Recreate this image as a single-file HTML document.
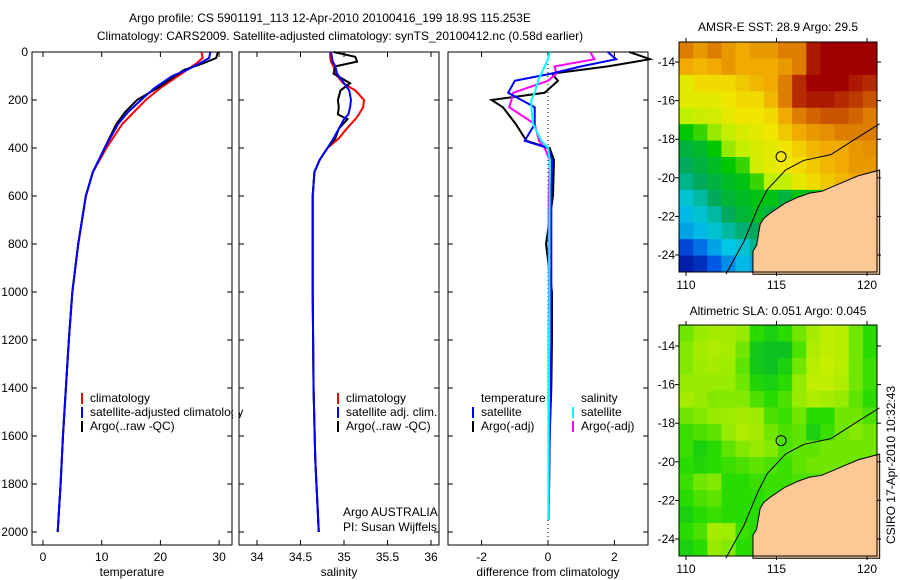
<!DOCTYPE html>
<html><head><meta charset="utf-8"><style>
body{margin:0;background:#fff}
svg{display:block;font-family:"Liberation Sans",sans-serif}
text{font-size:12px;fill:#000}
</style></head><body>
<svg id="c" width="900" height="580" viewBox="0 0 900 580">
<text x="330" y="22" text-anchor="middle">Argo profile: CS 5901191_113 12-Apr-2010 20100416_199 18.9S 115.253E</text>
<text x="340" y="40" text-anchor="middle">Climatology: CARS2009. Satellite-adjusted climatology: synTS_20100412.nc (0.58d earlier)</text>
</svg>
<script>
// ---- data ----
const tDepth=[0,25,50,75,100,150,200,250,300,400,500,600,800,1000,1200,1400,1600,1800,2000];
const tClim=[27,27.2,26,24.5,23,20,17.5,15.5,13.5,10.8,8.5,7.3,6,5,4.4,3.9,3.4,3,2.5];
const tSat=[28.5,28.3,26.5,24.5,22,19,16.7,14.5,12.8,10.5,8.5,7.3,6,5,4.4,3.9,3.4,3,2.5];
const tArgo=[29.8,29.5,27,24,22.5,19.5,16,14,12.5,10.5,8.5,7.3,6,5,4.4,3.9,3.4,3,2.5];
const sDepth=[0,20,40,60,90,130,160,200,230,260,280,320,360,400,450,500,600,1000,1400,1700,2000];
const sClim=[34.84,34.84,34.85,34.88,34.90,34.99,35.13,35.23,35.22,35.17,35.13,35.03,34.94,34.81,34.72,34.66,34.64,34.64,34.65,34.67,34.71];
const sSat=[34.85,34.86,34.87,34.90,34.92,35.0,35.06,35.08,35.07,35.05,35.0,34.94,34.88,34.81,34.72,34.66,34.64,34.64,34.65,34.67,34.71];
const sArgo=[34.88,35.13,35.15,34.90,34.88,35.07,34.96,34.93,34.94,34.93,35.04,34.94,34.90,34.81,34.72,34.66,34.64,34.64,34.65,34.67,34.71];
const dDepth=[0,30,60,90,120,170,200,230,300,370,400,450,600,800,1000,1200,1400,1600,1950];
const dTempClim=[2.45,3.07,1.8,0.12,0.3,-0.1,-1.7,-1.36,-0.97,-0.65,0.05,0.18,0.15,-0.06,0.12,0.12,0.1,0.05,0.02];
const dTempSat=[1.8,2.05,1.0,0.1,-1.0,-1.2,-0.8,-0.4,-0.4,-0.7,0,0.12,0.1,0.1,0.1,0.1,0.08,0.05,0.02];
const dSalClim=[1.27,1.4,0.2,0.25,0,-1.05,-1.1,-1.17,-0.4,-0.27,-0.1,0.05,0.02,0.02,0.03,0.02,0.02,0.02,0.02];
const dSalSat=[0.05,0,-0.1,-0.2,-0.3,-0.4,-0.5,-0.5,-0.45,-0.2,0,0.05,0.05,0.04,0.04,0.03,0.03,0.02,0.02];
const depthTicks=[0,200,400,600,800,1000,1200,1400,1600,1800,2000];
const tTicks=[0,10,20,30];
const sTicks=[34,34.5,35,35.5,36];
const dTicks=[-2,0,2];
const sstGrid=[
[.85,.82,.85,.82,.8,.82,.82,.85,.85,.97,1,1,1,1],
[.8,.78,.8,.82,.8,.8,.8,.82,.85,.97,1,1,1,1],
[.68,.72,.72,.72,.75,.78,.8,.85,.95,1,1,1,.97,.95],
[.68,.68,.68,.7,.72,.72,.78,.85,.95,.97,.97,.95,.93,.9],
[.62,.64,.65,.68,.7,.7,.72,.8,.85,.88,.9,.9,.88,.85],
[.52,.55,.6,.63,.66,.68,.7,.75,.8,.82,.83,.85,.85,.85],
[.45,.47,.52,.6,.63,.66,.68,.7,.74,.78,.8,.8,.82,.83],
[.42,.45,.48,.52,.55,.65,.68,.7,.72,.75,.78,.8,.82,.82],
[.38,.42,.45,.48,.5,.55,.62,.62,.68,.72,.75,.78,.8,.8],
[.32,.36,.42,.46,.48,.5,.5,.45,.5,.5,.5,.5,.5,.5],
[.28,.32,.36,.42,.46,.48,.45,.42,.45,.45,.45,.45,.45,.45],
[.25,.28,.32,.36,.4,.42,.38,.35,.4,.4,.4,.4,.4,.4],
[.12,.18,.25,.3,.32,.38,.3,.2,.3,.3,.3,.3,.3,.3],
[.05,.08,.15,.22,.28,.25,.18,.15,.2,.2,.2,.2,.2,.2]];
const slaGrid=[
[.5,.6,.7,.7,.6,.3,.2,.3,.5,.7,.85,.8,.5,.3],
[.55,.7,.75,.7,.5,.15,.1,.1,.4,.75,.85,.8,.5,.3],
[.55,.65,.7,.65,.45,.15,.1,.2,.5,.8,.9,.8,.5,.35],
[.6,.6,.6,.6,.5,.25,.2,.3,.6,.85,.85,.75,.5,.35],
[.7,.6,.55,.55,.55,.4,.3,.4,.6,.75,.7,.6,.45,.3],
[.5,.55,.6,.65,.7,.65,.4,.35,.5,.3,.3,.5,.5,.4],
[.35,.4,.45,.6,.75,.7,.5,.4,.45,.2,.35,.5,.55,.5],
[.35,.2,.3,.45,.55,.6,.55,.4,.45,.45,.5,.5,.5,.5],
[.3,.25,.3,.35,.4,.45,.4,.35,.45,.5,.5,.5,.5,.5],
[.35,.5,.55,.3,.3,.35,.35,.35,.4,.4,.4,.4,.4,.4],
[.3,.4,.45,.3,.3,.3,.35,.35,.4,.4,.4,.4,.4,.4],
[.2,.3,.35,.3,.3,.3,.35,.35,.4,.4,.4,.4,.4,.4],
[.3,.4,.7,.65,.35,.3,.3,.35,.4,.4,.4,.4,.4,.4],
[.2,.3,.6,.55,.3,.3,.3,.35,.4,.4,.4,.4,.4,.4]];
const landLon=[113.7,113.7,113.9,114.1,114.3,114.7,115.5,116.2,116.8,117.5,118.5,119.5,120.7,120.7];
const landLat=[-25,-23.8,-23.5,-22.4,-22.1,-21.8,-21.3,-21,-20.8,-20.7,-20.3,-19.9,-19.6,-25];
const shelfLon=[112.2,113.2,114,114.5,115.5,116.5,118,119.5,120.7];
const shelfLat=[-25,-23.3,-21.5,-20.6,-19.6,-19.1,-18.8,-17.9,-17.2];
const latTicks=[-14,-16,-18,-20,-22,-24];
const lonTicks=[110,115,120];
const argoLon=115.253, argoLat=-18.9;

const svg=document.getElementById('c');
const NS='http://www.w3.org/2000/svg';
function mk(tag,attrs,parent){const e=document.createElementNS(NS,tag);for(const k in attrs)e.setAttribute(k,attrs[k]);(parent||svg).appendChild(e);return e;}
const PT=52, PB=545;
const yD=d=>52+d*0.24;
function panel(x0,x1,xs,ticks,label,name){
  const g=mk('g',{});
  
  
  mk('rect',{x:x0,y:PT,width:x1-x0,height:PB-PT,fill:'#fff',stroke:'#000'},g);
  ticks.forEach(v=>{const x=xs(v);mk('line',{x1:x,x2:x,y1:PB,y2:PB-5,stroke:'#000'},g);mk('line',{x1:x,x2:x,y1:PT,y2:PT+5,stroke:'#000'},g);
    const t=mk('text',{x:x,y:561,'text-anchor':'middle'},g);t.textContent=v;});
  depthTicks.forEach(d=>{const y=yD(d);mk('line',{x1:x0,x2:x0+5,y1:y,y2:y,stroke:'#000'},g);mk('line',{x1:x1,x2:x1-5,y1:y,y2:y,stroke:'#000'},g);});
  const t=mk('text',{x:(x0+x1)/2,y:576,'text-anchor':'middle'},g);t.textContent=label;
  return g;
}
function line(g,xs,vals,depths,col,name){
  const p=mk('polyline',{points:vals.map((v,i)=>xs(v)+','+yD(depths[i])).join(' '),fill:'none',stroke:col,'stroke-width':2},g);
  
  
}
depthTicks.forEach(d=>{const t=mk('text',{x:28,y:yD(d)+4,'text-anchor':'end'});t.textContent=d;});
// panel 1
const xT=v=>43+v*5.87;
const g1=panel(32,232,xT,tTicks,'temperature','temperature-panel');
line(g1,xT,tClim,tDepth,'#f00','temp-climatology-line');
line(g1,xT,tArgo,tDepth,'#000','temp-argo-line');
line(g1,xT,tSat,tDepth,'#00f','temp-satellite-line');
// panel 2
const xS=v=>344+(v-35)*87;
const g2=panel(239,439,xS,sTicks,'salinity','salinity-panel');
line(g2,xS,sClim,sDepth,'#f00','sal-climatology-line');
line(g2,xS,sArgo,sDepth,'#000','sal-argo-line');
line(g2,xS,sSat,sDepth,'#00f','sal-satellite-line');
// panel 3
const xDf=v=>548+v*33.2;
const g3=panel(448,648,xDf,dTicks,'difference from climatology','difference-panel');
mk('line',{x1:548,x2:548,y1:PT,y2:PB,stroke:'#000','stroke-dasharray':'1,3'},g3);
line(g3,xDf,dTempClim,dDepth,'#000','diff-temp-argo-line');
line(g3,xDf,dSalClim,dDepth,'#f0f','diff-sal-argo-line');
line(g3,xDf,dTempSat,dDepth,'#00f','diff-temp-satellite-line');
line(g3,xDf,dSalSat,dDepth,'#0ff','diff-sal-satellite-line');
// legends
function leg(x,y,col,txt,name){const g=mk('g',{});
  if(col)mk('line',{x1:x,x2:x,y1:y-9,y2:y+2,stroke:col,'stroke-width':2},g);
  const t=mk('text',{x:x+8,y:y},g);t.textContent=txt;}
leg(82,402,'#f00','climatology','legend-climatology');
leg(82,416,'#00f','satellite-adjusted climatology','legend-satellite');
leg(82,430,'#000','Argo(..raw -QC)','legend-argo');
leg(338,402,'#f00','climatology','legend2-climatology');
leg(338,416,'#00f','satellite adj. clim.','legend2-satellite');
leg(338,430,'#000','Argo(..raw -QC)','legend2-argo');
leg(473,402,null,'temperature','legend3-temp-header');
leg(473,416,'#00f','satellite','legend3-temp-sat');
leg(473,430,'#000','Argo(-adj)','legend3-temp-argo');
leg(573,402,null,'salinity','legend3-sal-header');
leg(573,416,'#0ff','satellite','legend3-sal-sat');
leg(573,430,'#f0f','Argo(-adj)','legend3-sal-argo');
mk('rect',{x:233,y:405,width:5.5,height:14,fill:'#fff'});
let t=mk('text',{x:343,y:516});t.textContent='Argo AUSTRALIA';
t=mk('text',{x:343,y:531});t.textContent='PI: Susan Wijffels';
// maps
function ramp(stops){return v=>{for(let i=1;i<stops.length;i++){if(v<=stops[i][0]||i==stops.length-1){const a=stops[i-1],b=stops[i];const f=Math.max(0,Math.min(1,(v-a[0])/(b[0]-a[0])));return `rgb(${[1,2,3].map(k=>Math.round(a[k]+(b[k]-a[k])*f)).join(',')})`;}}};}
const sstCmap=ramp([[0,0,0,140],[.15,0,90,230],[.3,0,200,230],[.42,0,170,90],[.52,0,200,0],[.62,190,240,0],[.7,240,230,0],[.8,240,170,0],[.88,210,100,0],[1,160,0,0]]);
const slaCmap=ramp([[0,0,180,50],[.3,40,220,0],[.6,150,235,0],[1,215,240,0]]);
function map(x0,y0,w,h,yLat,grid,cmap,title,titleY,name){
  const g=mk('g',{});
  const xL=lon=>686+(lon-110)*18.1;
  const rows=grid.length, cols=grid[0].length;
  const cw=w/cols, ch=h/rows;
  grid.forEach((row,r)=>row.forEach((v,c)=>{mk('rect',{x:x0+c*cw,y:y0+r*ch,width:cw+0.5,height:ch+0.5,fill:cmap(v)},g);}));
  mk('polygon',{points:landLon.map((lo,i)=>xL(lo)+','+yLat(landLat[i])).join(' '),fill:'#fcc895',stroke:'#000','stroke-width':1},g);
  mk('polyline',{points:shelfLon.map((lo,i)=>xL(lo)+','+yLat(shelfLat[i])).join(' '),fill:'none',stroke:'#000','stroke-width':1},g);
  mk('circle',{cx:xL(argoLon),cy:yLat(argoLat),r:5,fill:'none',stroke:'#000'},g);
  mk('rect',{x:x0,y:y0,width:w,height:h,fill:'none',stroke:'#000'},g);
  latTicks.forEach(l=>{const y=yLat(l);mk('line',{x1:x0+w,x2:x0+w+4,y1:y,y2:y,stroke:'#000'},g);mk('line',{x1:x0,x2:x0-4,y1:y,y2:y,stroke:'#000'},g);const tt=mk('text',{x:x0-4,y:y+4,'text-anchor':'end'},g);tt.textContent=l;});
  lonTicks.forEach(l=>{const x=xL(l);mk('line',{x1:x,x2:x,y1:y0+h,y2:y0+h+4,stroke:'#000'},g);mk('line',{x1:x,x2:x,y1:y0,y2:y0-4,stroke:'#000'},g);const tt=mk('text',{x:x,y:y0+h+17,'text-anchor':'middle'},g);tt.textContent=l;});
  const tt=mk('text',{x:x0+w/2,y:titleY,'text-anchor':'middle'},g);tt.textContent=title;
}
map(679,42,198,230,l=>62+(-14-l)*19.3,sstGrid,sstCmap,'AMSR-E SST: 28.9 Argo: 29.5',31,'sst-map');
map(679,325,198,231,l=>346+(-14-l)*19.3,slaGrid,slaCmap,'Altimetric SLA: 0.051 Argo: 0.045',315,'sla-map');
t=mk('text',{x:0,y:0,transform:'translate(895,465) rotate(-90)','text-anchor':'middle'});t.textContent='CSIRO 17-Apr-2010 10:32:43';


</script>
</body></html>
